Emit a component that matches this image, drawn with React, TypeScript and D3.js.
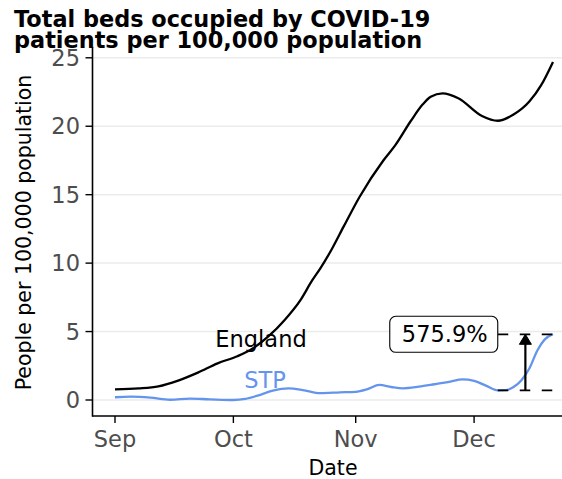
import React from "react";
import * as d3 from "d3";

const titleLines = ["Total beds occupied by COVID-19", "patients per 100,000 population"];
const yAxisTitle = "People per 100,000 population";
const xAxisTitle = "Date";
const xTickDates = ["2020-09-01", "2020-10-01", "2020-11-01", "2020-12-01"];
const xTickLabels = ["Sep", "Oct", "Nov", "Dec"];
const yTicks = [0, 5, 10, 15, 20, 25];

const englandDates = [
  "2020-09-01", "2020-09-07", "2020-09-12", "2020-09-17", "2020-09-22", "2020-09-27",
  "2020-10-02", "2020-10-06", "2020-10-10", "2020-10-14", "2020-10-18", "2020-10-21",
  "2020-10-23", "2020-10-26", "2020-10-29", "2020-11-02", "2020-11-08", "2020-11-11",
  "2020-11-15", "2020-11-18", "2020-11-20", "2020-11-23", "2020-11-27", "2020-12-03",
  "2020-12-07", "2020-12-11", "2020-12-15", "2020-12-18", "2020-12-21",
];
const englandValues = [
  0.78, 0.85, 1.0, 1.42, 2.0, 2.68,
  3.2, 3.78, 4.68, 5.85, 7.3, 8.75,
  9.6, 11.05, 12.7, 14.85, 17.5, 18.6,
  20.4, 21.6, 22.15, 22.4, 22.05, 20.75,
  20.4, 20.85, 21.8, 23.0, 24.7,
];

const stpDates = [
  "2020-09-01", "2020-09-05", "2020-09-10", "2020-09-15", "2020-09-20", "2020-09-25",
  "2020-10-01", "2020-10-04", "2020-10-08", "2020-10-11", "2020-10-15", "2020-10-19",
  "2020-10-23", "2020-10-28", "2020-11-01", "2020-11-04", "2020-11-07", "2020-11-10",
  "2020-11-13", "2020-11-17", "2020-11-21", "2020-11-25", "2020-11-28", "2020-12-01",
  "2020-12-04", "2020-12-07", "2020-12-09", "2020-12-11", "2020-12-13", "2020-12-15",
  "2020-12-17", "2020-12-19", "2020-12-21",
];
const stpValues = [
  0.2, 0.24, 0.17, 0.02, 0.1, 0.05,
  0.0, 0.08, 0.4, 0.68, 0.85, 0.7,
  0.5, 0.56, 0.6, 0.8, 1.1, 0.95,
  0.85, 0.97, 1.15, 1.34, 1.5, 1.4,
  1.05, 0.71, 0.72, 0.95, 1.45, 2.3,
  3.6, 4.45, 4.8,
];

const seriesLabels = ["England", "STP"];
const seriesLabelDates = ["2020-10-08", "2020-10-09"];
const seriesLabelValues = [4.45, 1.5];
const changeLabel = ["575.9%"];
const changeWindowStart = ["2020-12-01"];

const parse = d3.timeParse("%Y-%m-%d");

export default function App() {
  const W = 562;
  const H = 479;
  const panelLeft = 92.5;
  const panelBottom = 416;
  const panelTop = 47;

  const x = d3
    .scaleTime()
    .domain([parse("2020-09-01")!, parse("2020-12-21")!])
    .range([115, 553]);
  const y = d3.scaleLinear().domain([0, 25]).range([400, 57.8]);

  const eng = englandDates.map((d, i) => ({ date: parse(d)!, v: englandValues[i] }));
  const stp = stpDates.map((d, i) => ({ date: parse(d)!, v: stpValues[i] }));

  const line = d3
    .line<{ date: Date; v: number }>()
    .x((d) => x(d.date))
    .y((d) => y(d.v))
    .curve(d3.curveMonotoneX);

  // annotation from recent STP minimum to the last value
  const winStart = parse(changeWindowStart[0])!;
  const recent = stp.filter((p) => p.date >= winStart);
  const minPt = recent.reduce((a, b) => (b.v < a.v ? b : a));
  const endPt = stp[stp.length - 1];
  const xMin = x(minPt.date);
  const xEnd = x(endPt.date);
  const xMid = (xMin + xEnd) / 2;
  const yMin = y(minPt.v);
  const yEnd = y(endPt.v);

  const font = "DejaVu Sans, sans-serif";
  const boxW = 108;
  const boxH = 36;

  return (
    <svg
      width={W}
      height={H}
      style={{ position: "absolute", left: 0, top: 0, background: "#fff" }}
      fontFamily={font}
    >
      <rect x={0} y={0} width={W} height={H} fill="#fff" />
      {yTicks.map((t) => (
        <line key={"g" + t} x1={panelLeft} x2={W} y1={y(t)} y2={y(t)} stroke="#EBEBEB" strokeWidth={1.5} />
      ))}
      <line x1={panelLeft} x2={panelLeft} y1={panelTop} y2={panelBottom + 0.8} stroke="#000" strokeWidth={1.6} />
      <line x1={panelLeft} x2={W} y1={panelBottom} y2={panelBottom} stroke="#000" strokeWidth={1.6} />
      {yTicks.map((t) => (
        <g key={"yt" + t}>
          <line x1={panelLeft - 7} x2={panelLeft} y1={y(t)} y2={y(t)} stroke="#000" strokeWidth={1.4} />
          <text x={80} y={y(t)} dy="0.36em" textAnchor="end" fontSize={22.5} fill="#4D4D4D">
            {t}
          </text>
        </g>
      ))}
      {xTickDates.map((d, i) => {
        const xx = x(parse(d)!);
        return (
          <g key={"xt" + d}>
            <line x1={xx} x2={xx} y1={panelBottom} y2={panelBottom + 7} stroke="#000" strokeWidth={1.4} />
            <text x={xx} y={446.5} textAnchor="middle" fontSize={22.5} fill="#4D4D4D">
              {xTickLabels[i]}
            </text>
          </g>
        );
      })}
      <text x={333} y={475} textAnchor="middle" fontSize={20.5} fill="#000">
        {xAxisTitle}
      </text>
      <text transform={`translate(30.5, 232.5) rotate(-90)`} textAnchor="middle" fontSize={20.5} fill="#000">
        {yAxisTitle}
      </text>
      {titleLines.map((t, i) => (
        <text key={t} x={14} y={26.7 + i * 21.5} fontSize={22.4} fontWeight="bold" fill="#000">
          {t}
        </text>
      ))}
      <path d={line(eng) || ""} fill="none" stroke="#000" strokeWidth={2.3} />
      <path d={line(stp) || ""} fill="none" stroke="#6495ED" strokeWidth={2.3} />
      <text
        x={x(parse(seriesLabelDates[0])!)}
        y={y(seriesLabelValues[0])}
        dy="0.36em"
        textAnchor="middle"
        fontSize={22.5}
        fill="#000"
      >
        {seriesLabels[0]}
      </text>
      <text
        x={x(parse(seriesLabelDates[1])!)}
        y={y(seriesLabelValues[1])}
        dy="0.36em"
        textAnchor="middle"
        fontSize={22.5}
        fill="#6495ED"
      >
        {seriesLabels[1]}
      </text>
      <line x1={xMin} x2={xEnd} y1={yEnd} y2={yEnd} stroke="#000" strokeWidth={1.8} strokeDasharray="10.5 11.5" />
      <line x1={xMin} x2={xEnd} y1={yMin} y2={yMin} stroke="#000" strokeWidth={1.8} strokeDasharray="10.5 11.5" />
      <line x1={xMid} x2={xMid} y1={yMin} y2={yEnd + 8} stroke="#000" strokeWidth={2.2} />
      <path
        d={`M${xMid},${yEnd} L${xMid - 6},${yEnd + 10} L${xMid + 6},${yEnd + 10} Z`}
        fill="#000"
        stroke="#000"
        strokeWidth={1}
      />
      <rect
        x={xMin - boxW}
        y={yEnd - boxH / 2}
        width={boxW}
        height={boxH}
        rx={6}
        fill="#fff"
        stroke="#000"
        strokeWidth={1.1}
      />
      <text x={xMin - boxW / 2 + 1} y={yEnd} dy="0.36em" textAnchor="middle" fontSize={22.5} fill="#000">
        {changeLabel[0]}
      </text>
    </svg>
  );
}
